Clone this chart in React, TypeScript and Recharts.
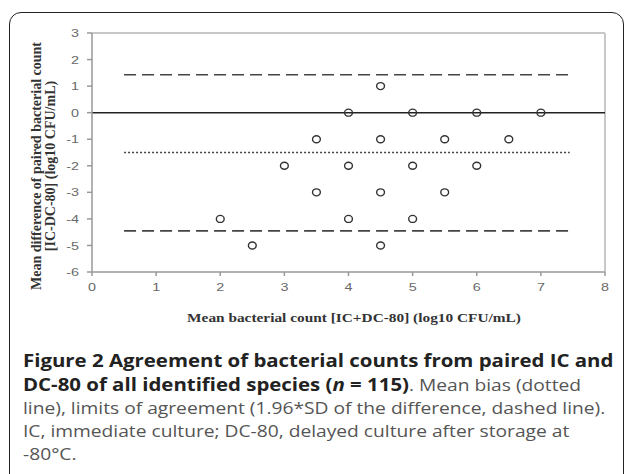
import React from 'react';
import {
  ScatterChart,
  Scatter,
  XAxis,
  YAxis,
  ReferenceLine,
} from 'recharts';

// points: mean of IC and DC-80 (x) vs difference (y)
const meanCounts = [4.5, 4, 5, 6, 7, 3.5, 4.5, 5.5, 6.5, 3, 4, 5, 6, 3.5, 4.5, 5.5, 2, 4, 5, 2.5, 4.5];
const differences = [1, 0, 0, 0, 0, -1, -1, -1, -1, -2, -2, -2, -2, -3, -3, -3, -4, -4, -4, -5, -5];

const xTicks = [0, 1, 2, 3, 4, 5, 6, 7, 8];
const yTicks = [3, 2, 1, 0, -1, -2, -3, -4, -5, -6];

const meanBias = -1.5;
const upperLimit = 1.43;
const lowerLimit = -4.45;
const limitStart = 0.5;
const limitEnd = 7.5;

const points = meanCounts.map((x, i) => ({ x, y: differences[i] }));

const tickFont = 'Liberation Sans, Arial, sans-serif';
const titleFont = 'Liberation Serif, Times New Roman, serif';

// the source picture is a bit stretched sideways, so text gets scaleX
const StretchTick = (props: any) => {
  const { x, y, payload, textAnchor, dy } = props;
  const sx = 1.25;
  return (
    <g transform={`translate(${x},${y}) scale(${sx},1)`}>
      <text
        x={0}
        y={0}
        dy={dy ?? '0.355em'}
        textAnchor={textAnchor}
        fontFamily={tickFont}
        fontSize={11.5}
        fill="#6a6a6a"
      >
        {payload.value}
      </text>
    </g>
  );
};

const OpenCircle = (props: any) => {
  const { cx, cy } = props;
  return <ellipse cx={cx} cy={cy} rx={3.9} ry={3.5} fill="none" stroke="#333" strokeWidth={1.4} />;
};

export default function App() {
  const bold = { color: '#222', fontWeight: 'bold' as const, fontSize: 17 };
  return (
    <div
      style={{
        position: 'absolute',
        left: 0,
        top: 0,
        width: 627,
        height: 474,
        overflow: 'hidden',
        background: '#fff',
      }}
    >
      {/* frame */}
      <div
        style={{
          position: 'absolute',
          left: 9,
          top: 12,
          width: 613,
          height: 500,
          border: '1.5px solid #222',
          borderRadius: 12,
        }}
      />

      <div style={{ position: 'absolute', left: 0, top: 0 }}>
        <ScatterChart width={627} height={340} margin={{ top: 33, right: 22, bottom: 28, left: 52 }}>
          <XAxis
            type="number"
            dataKey="x"
            domain={[0, 8]}
            ticks={xTicks}
            tick={<StretchTick />}
            tickSize={4}
            tickMargin={11}
            height={40}
            stroke="#999"
            strokeWidth={1.5}
          />
          <YAxis
            type="number"
            dataKey="y"
            domain={[-6, 3]}
            ticks={yTicks}
            tick={<StretchTick />}
            tickSize={5}
            tickMargin={8}
            width={40}
            stroke="#999"
            strokeWidth={1.5}
          />
          {/* plot frame top/right */}
          <ReferenceLine y={3} stroke="#c8c8c8" strokeWidth={2} />
          <ReferenceLine x={8} stroke="#c8c8c8" strokeWidth={2} />
          <ReferenceLine y={0} stroke="#222" strokeWidth={1.5} />
          <ReferenceLine
            segment={[{ x: limitStart, y: upperLimit }, { x: limitEnd, y: upperLimit }]}
            stroke="#444"
            strokeWidth={1.6}
            strokeDasharray="12 6"
          />
          <ReferenceLine
            segment={[{ x: limitStart, y: lowerLimit }, { x: limitEnd, y: lowerLimit }]}
            stroke="#444"
            strokeWidth={1.6}
            strokeDasharray="12 6"
          />
          <ReferenceLine
            segment={[{ x: limitStart, y: meanBias }, { x: limitEnd - 0.05, y: meanBias }]}
            stroke="#444"
            strokeWidth={1.3}
            strokeDasharray="2 2"
          />
          <Scatter data={points} shape={<OpenCircle />} isAnimationActive={false} />
        </ScatterChart>
      </div>

      {/* y axis title */}
      <div
        style={{
          position: 'absolute',
          left: 44,
          top: 166,
          transform: 'translate(-50%, -50%) rotate(-90deg)',
          whiteSpace: 'nowrap',
          textAlign: 'center',
          fontFamily: titleFont,
          fontWeight: 'bold',
          fontSize: 14,
          lineHeight: '14px',
          color: '#333',
        }}
      >
        <div>Mean difference of paired bacterial count</div>
        <div>[IC-DC-80] (log10 CFU/mL)</div>
      </div>

      {/* x axis title */}
      <div
        style={{
          position: 'absolute',
          left: 354,
          top: 318,
          transform: 'translate(-50%, -50%) scale(1.18, 1)',
          whiteSpace: 'nowrap',
          fontFamily: titleFont,
          fontWeight: 'bold',
          fontSize: 13,
          color: '#333',
        }}
      >
        Mean bacterial count [IC+DC-80] (log10 CFU/mL)
      </div>

      {/* caption */}
      <div
        style={{
          position: 'absolute',
          left: 23,
          top: 349,
          fontFamily: 'Open Sans, sans-serif',
          fontSize: 16,
          lineHeight: '23px',
          color: '#555',
          whiteSpace: 'nowrap',
          transform: 'scale(1.2, 1)',
          transformOrigin: 'left top',
        }}
      >
        <div>
          <span style={bold}>Figure 2 Agreement of bacterial counts from paired IC and</span>
        </div>
        <div>
          <span style={bold}>
            DC-80 of all identified species (<i>n</i> = 115)
          </span>
          . Mean bias (dotted
        </div>
        <div>line), limits of agreement (1.96*SD of the difference, dashed line).</div>
        <div>IC, immediate culture; DC-80, delayed culture after storage at</div>
        <div>-80°C.</div>
      </div>
    </div>
  );
}
